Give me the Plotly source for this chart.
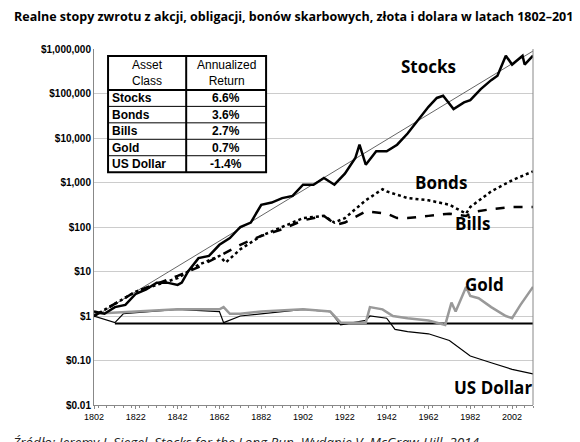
import math
import plotly.graph_objects as go

stocks_years = [1802,1807,1812,1817,1822,1827,1832,1837,1842,1844,1847,1852,1857,1862,1867,1872,1877,1882,1887,1892,1897,1902,1907,1912,1917,1922,1927,1929,1932,1937,1942,1947,1952,1957,1962,1966,1969,1974,1979,1982,1987,1992,1995,1999,2002,2007,2008,2012]
stocks_log = [0.1,0.05,0.2,0.25,0.5,0.6,0.75,0.75,0.7,0.75,1.0,1.3,1.35,1.6,1.75,2.0,2.1,2.5,2.55,2.65,2.7,2.95,2.95,3.1,2.95,3.2,3.55,3.85,3.4,3.7,3.7,3.85,4.1,4.4,4.7,4.9,4.95,4.65,4.8,4.85,5.1,5.3,5.4,5.85,5.65,5.85,5.65,5.85]
bonds_years = [1802,1822,1842,1852,1862,1865,1872,1882,1892,1902,1912,1917,1922,1932,1940,1942,1952,1962,1972,1980,1982,1992,2002,2012]
bonds_log = [0,0.55,0.85,1.15,1.35,1.2,1.5,1.8,2.0,2.2,2.25,2.1,2.2,2.6,2.85,2.8,2.65,2.6,2.5,2.3,2.45,2.8,3.05,3.25]
bills_years = [1802,1822,1842,1852,1862,1872,1882,1892,1902,1912,1918,1922,1932,1942,1947,1952,1962,1972,1980,1985,1992,2002,2012]
bills_log = [0,0.55,0.9,1.1,1.35,1.6,1.8,1.95,2.15,2.25,2.05,2.1,2.35,2.3,2.2,2.2,2.25,2.3,2.25,2.35,2.4,2.45,2.45]
gold_years = [1802,1822,1842,1852,1862,1864,1867,1872,1882,1902,1915,1920,1932,1934,1940,1945,1952,1962,1970,1973,1975,1980,1982,1986,1992,1999,2002,2006,2012]
gold_log = [0.05,0.1,0.15,0.15,0.15,0.2,0.05,0.05,0.1,0.15,0.1,-0.15,-0.15,0.2,0.15,0.0,-0.05,-0.1,-0.2,0.3,0.1,0.65,0.45,0.4,0.2,0.0,-0.05,0.25,0.655]
usd_years = [1802,1812,1816,1842,1862,1864,1872,1902,1915,1920,1932,1934,1942,1946,1952,1962,1972,1982,1992,2002,2012]
usd_log = [0,-0.15,0.05,0.15,0.1,-0.15,0.0,0.15,0.1,-0.2,-0.1,0.0,-0.05,-0.3,-0.35,-0.4,-0.55,-0.9,-1.05,-1.2,-1.3]
trend_years = [1802, 2012]
trend_vals = [0.95, 900000]
base_years = [1812, 2012]
base_vals = [0.68, 0.68]

assets = ["Stocks","Bonds","Bills","Gold","US Dollar"]
returns = ["6.6%","3.6%","2.7%","0.7%","-1.4%"]
end_labels = ["$704,997","$1778","$281","$4.52","$0.05"]
end_vals = [704997,1778,281,4.52,0.05]

def p(l): return [10**v for v in l]

fig = go.Figure()
fig.add_trace(go.Scatter(x=trend_years, y=trend_vals, mode="lines", line=dict(color="#666", width=1)))
fig.add_trace(go.Scatter(x=base_years, y=base_vals, mode="lines", line=dict(color="black", width=2)))
fig.add_trace(go.Scatter(x=usd_years, y=p(usd_log), mode="lines", line=dict(color="black", width=1.2)))
fig.add_trace(go.Scatter(x=gold_years, y=p(gold_log), mode="lines", line=dict(color="#999", width=2.5)))
fig.add_trace(go.Scatter(x=bills_years, y=p(bills_log), mode="lines", line=dict(color="black", width=2.5, dash="dash")))
fig.add_trace(go.Scatter(x=bonds_years, y=p(bonds_log), mode="lines", line=dict(color="black", width=2.5, dash="dot")))
fig.add_trace(go.Scatter(x=stocks_years, y=p(stocks_log), mode="lines", line=dict(color="black", width=2.5)))

ann = []
for lab, v in zip(end_labels, end_vals):
    ann.append(dict(x=2013, y=math.log10(v), xref="x", yref="y", text=lab, showarrow=False,
                    xanchor="left", yanchor="middle", font=dict(size=10, family="Liberation Sans", color="black")))
big = [("Stocks",1962,5.6),("Bonds",1968,3.0),("Bills",1983,2.07),("Gold",1989,0.7),("US Dollar",1993,-1.6)]
for t, x, y in big:
    ann.append(dict(x=x, y=y, xref="x", yref="y", text="<b>"+t+"</b>", showarrow=False, yanchor="middle",
                    font=dict(size=17, family="Open Sans", color="black")))

x0, xm, x1 = 0.032, 0.21, 0.392
yt, yh, yb = 0.98, 0.885, 0.654
shapes = [dict(type="rect", xref="paper", yref="paper", x0=x0, x1=x1, y0=yb, y1=yt, line=dict(color="black", width=2), fillcolor="white", layer="above"),
          dict(type="line", xref="paper", yref="paper", x0=xm, x1=xm, y0=yb, y1=yt, line=dict(color="black", width=2)),
          dict(type="line", xref="paper", yref="paper", x0=x0, x1=x1, y0=yh, y1=yh, line=dict(color="black", width=2))]
rh = (yh - yb) / 5
for i in range(1, 5):
    shapes.append(dict(type="line", xref="paper", yref="paper", x0=x0, x1=x1, y0=yh - i*rh, y1=yh - i*rh, line=dict(color="black", width=1)))
tf = dict(size=12, family="Liberation Sans", color="black")
ann.append(dict(x=(x0+xm)/2, y=(yt+yh)/2, xref="paper", yref="paper", text="Asset<br>Class", showarrow=False, yanchor="middle", xanchor="center", font=tf))
ann.append(dict(x=(xm+x1)/2, y=(yt+yh)/2, xref="paper", yref="paper", text="Annualized<br>Return", showarrow=False, yanchor="middle", xanchor="center", font=tf))
for i, (a, r) in enumerate(zip(assets, returns)):
    yc = yh - (i+0.5)*rh
    ann.append(dict(x=x0+0.005, y=yc, xref="paper", yref="paper", text="<b>"+a+"</b>", showarrow=False, xanchor="left", yanchor="middle", font=tf))
    ann.append(dict(x=(xm+x1)/2, y=yc, xref="paper", yref="paper", text="<b>"+r+"</b>", showarrow=False, xanchor="center", yanchor="middle", font=tf))
shapes.append(dict(type="line", xref="paper", yref="paper", x0=1, x1=1, y0=0, y1=1, line=dict(color="#888", width=1)))

ann.append(dict(x=0, y=1, xref="paper", yref="paper", xshift=-82, yshift=22, text="<b>Realne stopy zwrotu z akcji, obligacji, bonów skarbowych, złota i dolara w latach 1802–2012</b>",
                showarrow=False, xanchor="left", yanchor="bottom", font=dict(size=12.5, family="Open Sans", color="black")))
ann.append(dict(x=0, y=0, xref="paper", yref="paper", xshift=-84, yshift=-26, text="<i>Źródło: Jeremy J. Siegel, Stocks for the Long Run, Wydanie V, McGraw-Hill, 2014.</i>",
                showarrow=False, xanchor="left", yanchor="top", font=dict(size=13.5, family="Open Sans", color="#222")))

fig.update_layout(width=580, height=442, margin=dict(l=86, r=55, t=41, b=45), showlegend=False,
                  plot_bgcolor="white", paper_bgcolor="white", annotations=ann, shapes=shapes)
fig.update_xaxes(range=[1802, 2012], tickvals=list(range(1802, 2013, 20)), showgrid=False,
                 showline=True, linecolor="#888", ticks="outside", ticklen=3, tickcolor="#888",
                 minor=dict(dtick=4, ticks="outside", ticklen=2, tickcolor="#888"),
                 tickfont=dict(size=9, family="Liberation Sans", color="black"), tickprefix="<b>", ticksuffix="</b>")
yt_vals = [0.01, 0.1, 1, 10, 100, 1000, 10000, 100000, 1000000]
yt_text = ["<b>$0.01</b>","<b>$0.10</b>","<b>$1</b>","<b>$10</b>","<b>$100</b>","<b>$1,000</b>","<b>$10,000</b>","<b>$100,000</b>","<b>$1,000,000</b>"]
fig.update_yaxes(type="log", range=[-2, 6], tickvals=yt_vals, ticktext=yt_text, showgrid=True, gridcolor="#ccc",
                 showline=True, linecolor="#888", tickfont=dict(size=10, family="Liberation Sans", color="black"))
fig.write_html("out.html")
